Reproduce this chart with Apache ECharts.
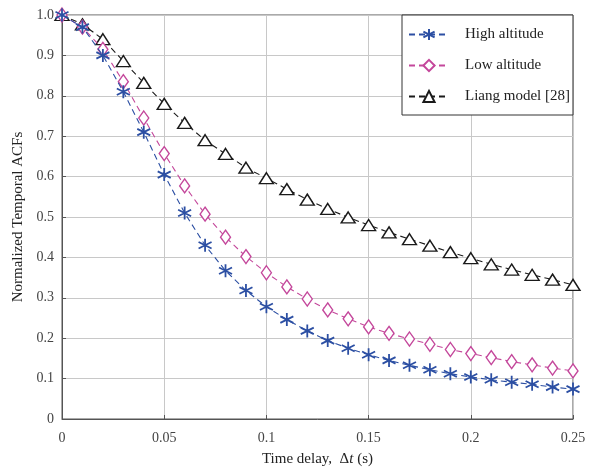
<!DOCTYPE html>
<html>
<head>
<meta charset="utf-8">
<script src="https://cdn.jsdelivr.net/npm/echarts@6/dist/echarts.min.js"></script>
<style>
  html, body { margin: 0; padding: 0; background: #fff; }
  #chart { width: 599px; height: 472px; }
</style>
</head>
<body>
<div id="chart"></div>
<script>
const delays = [0, 0.01, 0.02, 0.03, 0.04, 0.05, 0.06, 0.07, 0.08, 0.09, 0.1, 0.11, 0.12,
  0.13, 0.14, 0.15, 0.16, 0.17, 0.18, 0.19, 0.2, 0.21, 0.22, 0.23, 0.24, 0.25];
const highAlt = [1.0, 0.97, 0.90, 0.81, 0.71, 0.605, 0.51, 0.43, 0.367, 0.318, 0.278, 0.246, 0.218,
  0.194, 0.175, 0.159, 0.145, 0.133, 0.122, 0.112, 0.104, 0.097, 0.091, 0.086, 0.079, 0.074];
const lowAlt = [1.0, 0.97, 0.915, 0.835, 0.745, 0.657, 0.577, 0.507, 0.45, 0.402, 0.362, 0.327, 0.297,
  0.27, 0.248, 0.228, 0.212, 0.198, 0.185, 0.172, 0.162, 0.152, 0.142, 0.134, 0.126, 0.119];
const liang = [1.0, 0.977, 0.94, 0.886, 0.832, 0.78, 0.733, 0.69, 0.656, 0.622, 0.596, 0.569, 0.543,
  0.52, 0.499, 0.48, 0.462, 0.445, 0.429, 0.413, 0.398, 0.383, 0.37, 0.357, 0.345, 0.332];
const seriesNames = ['High altitude', 'Low altitude', 'Liang model [28]'];

const font = '"Liberation Serif", "DejaVu Serif", serif';
const asterisk = 'path://M0,-10L0,10M-8.66,-5L8.66,5M-8.66,5L8.66,-5';

const pairs = (ys) => delays.map((x, i) => [x, ys[i]]);

const chart = echarts.init(document.getElementById('chart'));
chart.setOption({
  animation: false,
  textStyle: { fontFamily: font },
  grid: { left: 62, right: 26, top: 15, bottom: 53, show: true, borderColor: '#555', borderWidth: 1 },
  legend: {
    orient: 'vertical',
    left: 402,
    top: 15,
    backgroundColor: '#fff',
    borderColor: '#333',
    borderWidth: 1,
    padding: [12, 3, 11, 6],
    itemGap: 16,
    itemWidth: 40,
    itemHeight: 14,
    textStyle: { fontFamily: font, fontSize: 15, color: '#222', padding: [0, 0, 0, 11] },
    data: seriesNames,
  },
  xAxis: {
    type: 'value',
    min: 0,
    max: 0.25,
    interval: 0.05,
    name: 'Time delay,  {up|Δ}{it|t} (s)',
    nameLocation: 'middle',
    nameGap: 33,
    nameTextStyle: {
      fontFamily: font, fontSize: 15, color: '#222',
      rich: {
        up: { fontFamily: font, fontSize: 15, color: '#222' },
        it: { fontFamily: font, fontSize: 15, color: '#222', fontStyle: 'italic' },
      },
    },
    axisLine: { show: true, lineStyle: { color: '#555' } },
    axisTick: { inside: true, length: 4, lineStyle: { color: '#555' } },
    axisLabel: { color: '#444', fontSize: 14, margin: 12, fontFamily: font },
    splitLine: { show: true, lineStyle: { color: '#c8c8c8', width: 1 } },
  },
  yAxis: {
    type: 'value',
    min: 0,
    max: 1,
    interval: 0.1,
    name: 'Normalized Temporal ACFs',
    nameLocation: 'middle',
    nameGap: 33,
    nameTextStyle: { fontFamily: font, fontSize: 15, color: '#222' },
    axisLine: { show: true, lineStyle: { color: '#555' } },
    axisTick: { inside: true, length: 4, lineStyle: { color: '#555' } },
    axisLabel: {
      color: '#444', fontSize: 14, margin: 8, fontFamily: font,
      formatter: (v) => (v === 0 ? '0' : v.toFixed(1)),
    },
    splitLine: { show: true, lineStyle: { color: '#c8c8c8', width: 1 } },
  },
  series: [
    {
      name: seriesNames[0],
      type: 'line',
      data: pairs(highAlt),
      symbol: asterisk,
      symbolSize: 13,
      z: 4,
      itemStyle: { color: '#2c4fa3', borderColor: '#2c4fa3', borderWidth: 1.8 },
      lineStyle: { color: '#2c4fa3', width: 1.1, type: [6, 4] },
    },
    {
      name: seriesNames[1],
      type: 'line',
      data: pairs(lowAlt),
      symbol: 'diamond',
      symbolSize: [10, 14],
      z: 3,
      itemStyle: { color: '#fff', borderColor: '#c4479b', borderWidth: 1.4 },
      lineStyle: { color: '#c4479b', width: 1.1, type: [6, 4] },
    },
    {
      name: seriesNames[2],
      type: 'line',
      data: pairs(liang),
      symbol: 'triangle',
      symbolSize: [14, 11],
      z: 2,
      itemStyle: { color: '#fff', borderColor: '#1a1a1a', borderWidth: 1.4 },
      lineStyle: { color: '#1a1a1a', width: 1.1, type: [6, 4] },
    },
  ],
});
</script>
</body>
</html>
